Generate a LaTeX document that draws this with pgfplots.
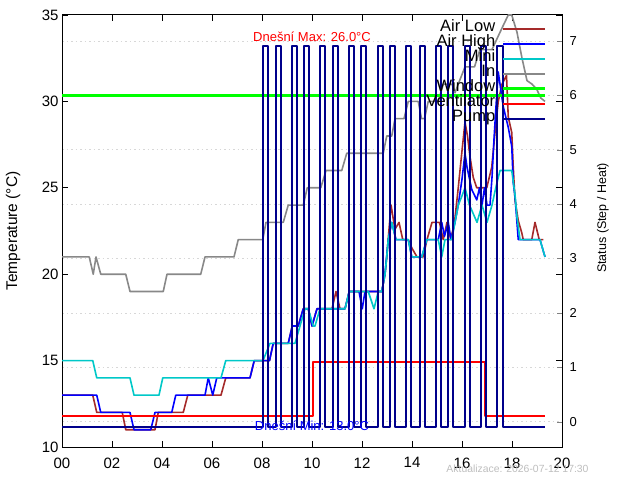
\documentclass[border=0pt]{standalone}
\usepackage{fontspec}
\setmainfont{Liberation Sans}
\usepackage{pgfplots}
\pgfplotsset{compat=1.18}
\definecolor{airlow}{RGB}{165,42,42}
\definecolor{airhigh}{RGB}{0,0,255}
\definecolor{mini}{RGB}{0,200,200}
\definecolor{ingray}{RGB}{136,136,136}
\definecolor{window}{RGB}{0,255,0}
\definecolor{vent}{RGB}{255,0,0}
\definecolor{pump}{RGB}{0,0,139}
\definecolor{gridc}{RGB}{215,215,215}
\definecolor{stampc}{RGB}{190,190,190}
\begin{document}
\begin{tikzpicture}[x=1pt,y=1pt]
\useasboundingbox (0,0) rectangle (640,480);
\pgfplotsset{
  base/.style={scale only axis, width=500pt, height=432pt, at={(62pt,33pt)}, anchor=south west, xmin=0, xmax=20, clip=true},
}
% Axis A: grid and right ticks
\begin{axis}[base, ymin=-0.465, ymax=7.477,
  hide x axis, axis y line*=right, axis line style={line width=1pt, -},
  ytick={0,1,2,3,4,5,6,7}, tick align=inside, major tick length=5pt,
  ymajorgrids, major grid style={gridc, dash pattern=on 1.5pt off 3pt, line width=0.6pt},
  /pgf/number format/assume math mode=true,
  yticklabel style={font=\fontsize{13}{13}\selectfont, xshift=4pt},
]
\end{axis}
% Axis B: temperatures
\begin{axis}[base, ymin=10, ymax=35,
  axis line style={line width=1pt},
  xtick={0,2,4,6,8,10,12,14,16,18,20},
  xticklabels={00,02,04,06,08,10,12,14,16,18,20},
  ytick={10,15,20,25,30,35},
  tick align=inside, major tick length=6pt, tick style={black, line width=0.8pt},
  /pgf/number format/assume math mode=true,
  ticklabel style={font=\fontsize{15}{15}\selectfont},
  xticklabel style={yshift=-7pt},
  every axis plot/.append style={line width=1.6pt, line join=round},
]
\addplot[airlow] coordinates {(0,13) (1.23,13) (1.39,12) (2.41,12) (2.55,11) (3.72,11) (3.85,12) (4.85,12) (5.03,13) (6.36,13) (6.55,14) (7.52,14) (7.69,15) (8.3,15) (8.45,16) (9.05,16) (9.21,17) (9.45,17) (9.65,18) (9.85,18) (10.0,17) (10.2,18) (10.8,18) (10.96,19) (11.12,18) (11.32,18) (11.49,19) (12.79,19) (12.92,20) (12.99,21) (13.16,24) (13.32,22.6) (13.48,23) (13.63,22) (13.85,22) (14.0,21.5) (14.2,21) (14.45,21) (14.6,22) (14.8,23) (15.1,23) (15.25,22) (15.4,23) (15.55,22) (15.7,23) (15.85,25) (15.99,27) (16.12,28.8) (16.22,28) (16.32,26.8) (16.45,25.6) (16.59,25) (16.99,25) (17.19,26.2) (17.32,28.2) (17.45,30) (17.6,31) (17.78,31.5) (17.85,29.1) (17.99,28.2) (18.05,26.2) (18.12,24.3) (18.25,23.1) (18.39,22.4) (18.45,22) (18.79,22) (18.92,23) (19.09,22) (19.25,22)};
\addplot[airhigh] coordinates {(0,13) (1.39,13) (1.55,12) (2.72,12) (2.88,11) (3.55,11) (3.72,12) (4.39,12) (4.55,13) (5.72,13) (5.85,14) (6.03,13) (6.19,14) (7.52,14) (7.69,15) (8.3,15) (8.45,16) (9.05,16) (9.21,17) (9.45,17) (9.65,18) (9.85,18) (10.0,17) (10.2,18) (11.32,18) (11.49,19) (11.88,19) (12.01,18) (12.12,19) (12.79,19) (12.92,20) (13.05,22) (13.19,23) (13.36,22) (13.85,22) (13.99,21) (14.39,21) (14.59,22) (15.05,22) (15.19,23) (15.3,22.2) (15.45,23) (15.56,22) (15.72,23) (15.85,24) (16.0,25.5) (16.12,27) (16.2,26.2) (16.39,24.9) (16.59,24.3) (16.7,25) (16.8,24) (16.9,25) (17.0,24) (17.12,24) (17.2,25.6) (17.28,27.8) (17.35,29.5) (17.45,31.7) (17.65,29.7) (17.85,28.5) (17.99,27.4) (18.05,25.3) (18.12,24.5) (18.25,22) (19.12,22) (19.32,21)};
\addplot[mini] coordinates {(0,15) (1.23,15) (1.39,14) (2.72,14) (2.88,13) (3.88,13) (4.03,14) (6.36,14) (6.55,15) (8.04,15) (8.32,16) (9.32,16) (9.52,17) (9.72,18) (9.85,18) (10.05,17) (10.12,17) (10.32,18) (11.32,18) (11.49,19) (12.25,19) (12.48,18) (12.65,19) (12.79,19) (12.92,20) (12.99,21) (13.05,22) (13.19,23) (13.36,22) (13.85,22) (13.99,21) (14.39,21) (14.59,22) (15.05,22) (15.19,21) (15.32,22) (15.59,22) (15.72,23) (15.85,24) (15.99,24.5) (16.12,25) (16.3,24) (16.6,23) (16.8,24) (17.0,23) (17.2,24) (17.35,25) (17.52,26) (17.99,26) (18.12,24.6) (18.2,23.3) (18.32,22) (19.12,22) (19.32,21)};
\addplot[ingray] coordinates {(0,21) (1.09,21) (1.25,20) (1.36,21) (1.55,20) (2.55,20) (2.72,19) (4.05,19) (4.2,20) (5.55,20) (5.72,21) (6.88,21) (7.05,22) (8.03,22) (8.16,23) (8.85,23) (9.05,24) (9.65,24) (9.81,25) (10.35,25) (10.56,26) (11.19,26) (11.39,27) (12.85,27) (12.99,28) (13.19,28) (13.32,29) (13.68,29) (13.85,30) (14.25,30) (14.38,29) (14.5,29) (14.65,30) (15.05,30) (15.25,31) (15.6,31) (15.72,30.5) (15.85,31) (16.12,32) (16.5,32) (16.72,33) (17.2,33) (17.52,34) (17.85,35) (17.99,35) (18.2,34) (18.4,32.5) (18.6,31.2) (18.8,31) (18.99,30.7) (19.15,30.2) (19.32,30)};
\end{axis}
% Axis C: status series and legend
\begin{axis}[base, ymin=-0.465, ymax=7.477, hide axis,
  every axis plot/.append style={line join=round},
  legend style={draw=none, fill=none, inner sep=0pt, at={(axis description cs:0.969,0.986)}, anchor=north east,
    font=\fontsize{16.5}{15}\selectfont, column sep=6.5pt,
    nodes={inner sep=0pt, text height=10pt, text depth=5pt}},
  legend plot pos=right, legend cell align=right,
  legend image code/.code={\draw[#1] (0pt,0pt) -- (42pt,0pt);},
]
\addlegendimage{airlow, line width=1.6pt}\addlegendentry{Air Low}
\addlegendimage{airhigh, line width=1.6pt}\addlegendentry{Air High}
\addlegendimage{mini, line width=1.6pt}\addlegendentry{Mini}
\addlegendimage{ingray, line width=1.6pt}\addlegendentry{In}
\addplot[window, line width=2.6pt] coordinates {(0,6) (19.32,6)};
\addlegendentry{Window}
\addplot[vent, line width=1.6pt] coordinates {(0,0.1) (10.04,0.1) (10.04,1.1) (16.92,1.1) (16.92,0.1) (19.32,0.1)};
\addlegendentry{Ventilator}
\addplot[pump, line width=2pt] coordinates {(0,-0.1)
 (8.04,-0.1) (8.04,6.9) (8.24,6.9) (8.24,-0.1)
 (8.56,-0.1) (8.56,6.9) (8.76,6.9) (8.76,-0.1)
 (9.2,-0.1) (9.2,6.9) (9.4,6.9) (9.4,-0.1)
 (9.68,-0.1) (9.68,6.9) (9.88,6.9) (9.88,-0.1)
 (10.32,-0.1) (10.32,6.9) (10.52,6.9) (10.52,-0.1)
 (10.84,-0.1) (10.84,6.9) (11.04,6.9) (11.04,-0.1)
 (11.48,-0.1) (11.48,6.9) (11.68,6.9) (11.68,-0.1)
 (11.96,-0.1) (11.96,6.9) (12.16,6.9) (12.16,-0.1)
 (12.64,-0.1) (12.64,6.9) (12.84,6.9) (12.84,-0.1)
 (13.12,-0.1) (13.12,6.9) (13.32,6.9) (13.32,-0.1)
 (13.76,-0.1) (13.76,6.9) (13.96,6.9) (13.96,-0.1)
 (14.32,-0.1) (14.32,6.9) (14.52,6.9) (14.52,-0.1)
 (14.96,-0.1) (14.96,6.9) (15.16,6.9) (15.16,-0.1)
 (15.44,-0.1) (15.44,6.9) (15.64,6.9) (15.64,-0.1)
 (16.12,-0.1) (16.12,6.9) (16.32,6.9) (16.32,-0.1)
 (16.76,-0.1) (16.76,6.9) (16.96,6.9) (16.96,-0.1)
 (17.4,-0.1) (17.4,6.9) (17.64,6.9) (17.64,-0.1)
 (19.32,-0.1)};
\addlegendentry{Pump}
\node[text=red, font=\fontsize{13}{13}\selectfont] at (axis description cs:0.5,0.949) {Dnešní Max: 26.0°C};
\node[text=airhigh, font=\fontsize{13}{13}\selectfont] at (axis description cs:0.5,0.0486) {Dnešní Min: 13.0°C};
\end{axis}
\node[rotate=90, font=\fontsize{15.5}{15.5}\selectfont] at (13,249) {Temperature (°C)};
\node[rotate=90, font=\fontsize{12.5}{12.5}\selectfont] at (603,262) {Status (Step / Heat)};
\node[text=stampc, font=\fontsize{10.4}{10.4}\selectfont] at (517.5,11) {Aktualizace: 2026-07-12 17:30};
\end{tikzpicture}
\end{document}
